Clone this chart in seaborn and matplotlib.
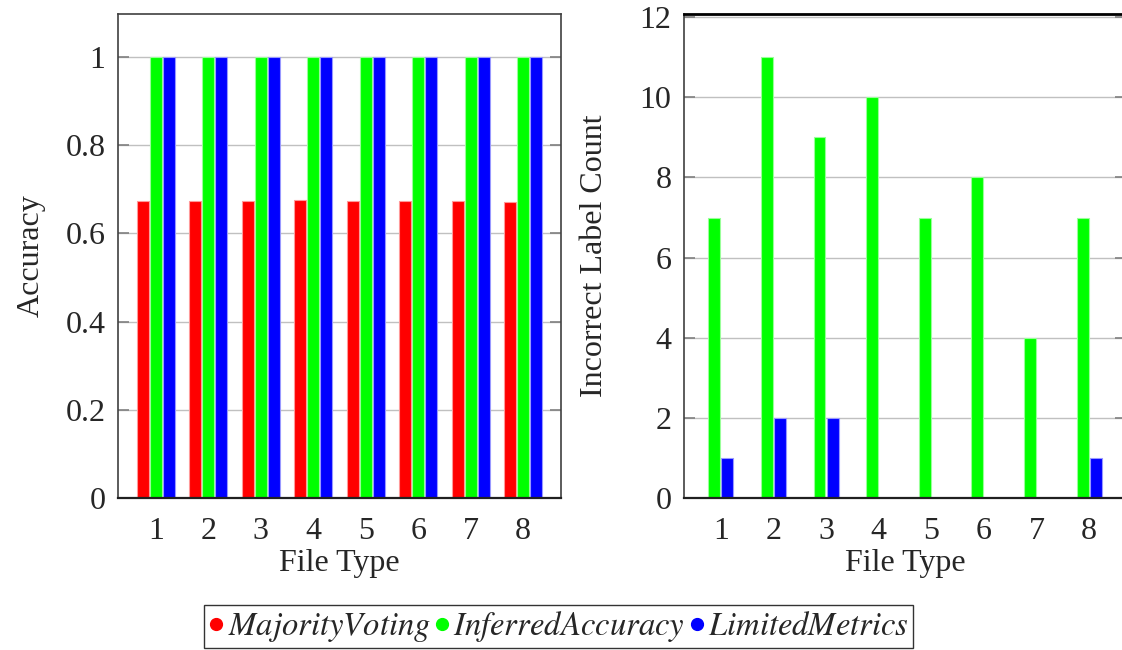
import numpy as np
import pandas as pd
import matplotlib
matplotlib.use("Agg")
import matplotlib.pyplot as plt
from matplotlib.lines import Line2D
import seaborn as sns

# ---- data ----
file_types = [1, 2, 3, 4, 5, 6, 7, 8]
majority_voting_acc = [0.673, 0.673, 0.673, 0.676, 0.674, 0.674, 0.674, 0.672]
inferred_accuracy_acc = [1, 1, 1, 1, 1, 1, 1, 1]
limited_metrics_acc = [1, 1, 1, 1, 1, 1, 1, 1]
inferred_accuracy_wrong = [7, 11, 9, 10, 7, 8, 4, 7]
limited_metrics_wrong = [1, 2, 2, 0, 0, 0, 0, 1]

series_names = ["MajorityVoting", "InferredAccuracy", "LimitedMetrics"]
series_colors = {"MajorityVoting": "#ff0000",
                 "InferredAccuracy": "#00ff00",
                 "LimitedMetrics": "#0000ff"}
edge_colors = {"MajorityVoting": "#ff9999",
               "InferredAccuracy": "#99ff99",
               "LimitedMetrics": "#9999ff"}

acc_df = pd.DataFrame({
    "File Type": file_types * 3,
    "value": majority_voting_acc + inferred_accuracy_acc + limited_metrics_acc,
    "series": ([series_names[0]] * 8 + [series_names[1]] * 8
               + [series_names[2]] * 8),
})
wrong_df = pd.DataFrame({
    "File Type": file_types * 2,
    "value": inferred_accuracy_wrong + limited_metrics_wrong,
    "series": [series_names[1]] * 8 + [series_names[2]] * 8,
})

# ---- style ----
sns.set_theme(style="white")
plt.rcParams["font.family"] = ["Liberation Serif", "DejaVu Serif"]
plt.rcParams["mathtext.fontset"] = "stix"
FS = 23

fig = plt.figure(figsize=(11.22, 6.5), dpi=100)
ax1 = fig.add_axes([118 / 1122, 1 - 498 / 650, 443 / 1122, 484 / 650])
ax2 = fig.add_axes([684 / 1122, 1 - 498 / 650, 442 / 1122, 484 / 650])


def style_axes(ax, ylim, yticks, yticklabels, ylabel, xlim, ylabelpad):
    ax.set_xlim(*xlim)
    ax.set_ylim(*ylim)
    ax.set_xticks(file_types)
    ax.set_xticklabels([str(v) for v in file_types], fontsize=FS)
    ax.set_yticks(yticks)
    ax.set_yticklabels(yticklabels, fontsize=FS)
    ax.set_xlabel("File Type", fontsize=FS, labelpad=2)
    ax.set_ylabel(ylabel, fontsize=FS, labelpad=ylabelpad)
    ax.set_axisbelow(True)
    ax.yaxis.grid(True, color="#c0c0c0", linewidth=1.0)
    ax.xaxis.grid(False)
    ax.tick_params(axis="y", direction="in", length=8, width=1.2,
                   color="#808080", left=True, right=True, pad=9)
    ax.tick_params(axis="x", length=0, pad=14)
    for sp in ax.spines.values():
        sp.set_visible(True)
        sp.set_color("#404040")
        sp.set_linewidth(1.2)
    ax.spines["bottom"].set_color("#202020")
    ax.spines["bottom"].set_linewidth(1.6)


# Accuracy panel: three bars per file type
sns.barplot(data=acc_df, x="File Type", y="value", hue="series",
            hue_order=series_names, palette=series_colors,
            native_scale=True, width=0.75, gap=0.1, legend=False,
            errorbar=None, ax=ax1, saturation=1)
for cont, name in zip(ax1.containers, series_names):
    for bar in cont:
        bar.set_edgecolor(edge_colors[name])
        bar.set_linewidth(0.8)
style_axes(ax1, (0, 1.097), [0, 0.2, 0.4, 0.6, 0.8, 1],
           ["0", "0.2", "0.4", "0.6", "0.8", "1"], "Accuracy", (0.28, 8.72), 14)

# Incorrect label count panel: two bars per file type
sns.barplot(data=wrong_df, x="File Type", y="value", hue="series",
            hue_order=series_names[1:], palette=series_colors,
            native_scale=True, width=0.5, gap=0.1, legend=False,
            errorbar=None, ax=ax2, saturation=1)
for cont, name in zip(ax2.containers, series_names[1:]):
    for bar in cont:
        bar.set_edgecolor(edge_colors[name])
        bar.set_linewidth(0.8)
style_axes(ax2, (0, 12.08), [0, 2, 4, 6, 8, 10, 12],
           ["0", "2", "4", "6", "8", "10", "12"], "Incorrect Label Count",
           (0.3, 8.7), 22)
ax2.spines["top"].set_color("#000000")
ax2.spines["top"].set_linewidth(2.0)

# Shared legend below both panels
handles = [Line2D([0], [0], marker="o", linestyle="none", markersize=8.5,
                  markerfacecolor=series_colors[n], markeredgecolor=series_colors[n])
           for n in series_names]
labels = [r"$%s$" % n for n in series_names]
leg = fig.legend(handles, labels, loc="center", ncol=3,
                 bbox_to_anchor=(558.5 / 1122, 1 - 626.5 / 650),
                 fontsize=23.5, frameon=True, fancybox=False,
                 handlelength=0.5, handletextpad=0.1, columnspacing=0.1,
                 borderpad=0.12, borderaxespad=0)
leg.get_frame().set_edgecolor("#000000")
leg.get_frame().set_linewidth(1.0)

fig.savefig("out.png", dpi=100)
